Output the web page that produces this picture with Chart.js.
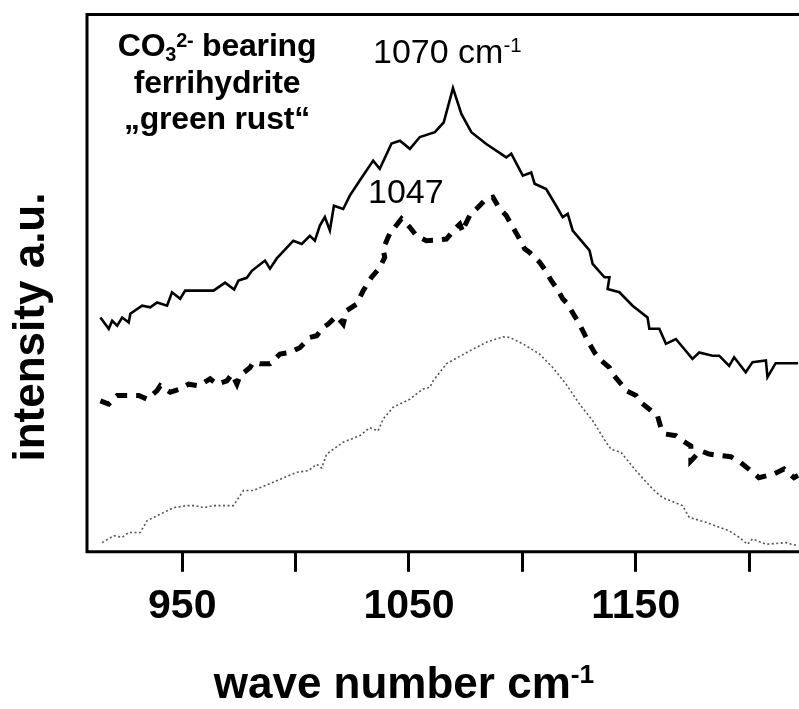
<!DOCTYPE html>
<html>
<head>
<meta charset="utf-8">
<script src="https://cdn.jsdelivr.net/npm/chart.js@4.4.1/dist/chart.umd.min.js"></script>
<style>
  html, body { margin: 0; padding: 0; background: #fff; }
  #wrap { position: relative; width: 799px; height: 709px; overflow: hidden; font-family: 'Liberation Sans', Arial, Helvetica, sans-serif; color: #000; }
  #wrap canvas { position: absolute; left: 0; top: 0; }
  .lbl { position: absolute; white-space: nowrap; line-height: 1; }
  .note { position: absolute; left: 97px; top: 27px; width: 240px; text-align: center; font-weight: bold; font-size: 32px; line-height: 36.5px; letter-spacing: -0.2px; }
  .note sub, .note sup { font-size: 0.62em; line-height: 0; position: relative; vertical-align: baseline; }
  .note sub { top: 0.25em; }
  .note sup { top: -0.45em; }
  .peak { font-size: 34px; }
  .peak sup, .xt sup { font-size: 0.6em; line-height: 0; position: relative; vertical-align: baseline; top: -0.55em; }
  .xt { left: 154px; top: 661px; width: 500px; text-align: center; font-weight: bold; font-size: 44px; }
  .yt { left: -121px; top: 305px; width: 300px; text-align: center; font-weight: bold; font-size: 44px; transform: rotate(-90deg); }
</style>
</head>
<body>
<div id="wrap">
  <canvas id="spec" width="799" height="709"></canvas>
  <div class="note">CO<sub>3</sub><sup>2-</sup> bearing<br>ferrihydrite<br>„green rust“</div>
  <div class="lbl peak" style="left:373px; top:34px;">1070 cm<sup>-1</sup></div>
  <div class="lbl peak" style="left:368px; top:174px;">1047</div>
  <div class="lbl xt">wave number cm<sup>-1</sup></div>
  <div class="lbl yt">intensity a.u.</div>
</div>
<script>
// x axis: wave number (cm-1), y: intensity in arbitrary units (0..100)
const X_MIN = 908, X_MAX = 1222;
const TICKS = [950, 1000, 1050, 1100, 1150, 1200];
const TICK_LABELS = ['950', '', '1050', '', '1150', ''];

// CO3 bearing ferrihydrite (solid)
const SOLID_X = [913.9,917.6,919.1,921.3,923.5,926.4,927.1,932.3,935.9,938.9,943.3,945.5,949.1,951.3,963.8,968.9,972.9,974.8,978.5,980.7,
  986.5,988.7,991.7,999.0,1002.7,1006.3,1008.5,1010.7,1012.9,1015.1,1016.9,1021.0,1023.9,1028.3,1034.2,1037.1,1042.3,1046.0,1050.4,1054.8,
  1061.4,1065.3,1069.4,1073.1,1077.5,1084.1,1092.9,1095.1,1100.2,1103.9,1105.4,1110.5,1114.9,1117.8,1120.0,1122.2,1129.6,1131.0,1136.2,1138.4,
  1137.6,1142.8,1148.6,1155.2,1156.0,1160.4,1163.3,1167.7,1175.0,1178.0,1183.8,1186.8,1191.2,1193.4,1198.5,1201.5,1207.4,1208.1,1211.7,1221.6];
const SOLID_Y = [43.6,41.5,43.0,42.1,43.6,42.7,44.3,45.8,45.5,46.4,45.8,48.3,47.1,48.6,48.6,50.1,48.8,50.5,51.0,52.3,
  54.2,52.7,54.6,57.9,57.3,58.8,57.9,60.7,62.3,59.8,64.4,63.8,66.3,69.1,72.8,71.3,76.0,76.5,75.0,77.2,
  78.1,79.9,86.3,81.5,78.1,75.9,73.4,74.1,70.0,70.6,68.5,67.5,64.4,62.3,62.9,59.8,56.1,53.6,51.1,51.1,
  48.9,48.3,45.8,43.6,41.5,41.5,38.7,39.6,35.9,37.1,36.5,36.5,34.6,36.2,33.4,35.3,35.6,32.5,35.1,35.1];

// ferrihydrite (dashed)
const DASH_X = [913.9,917.6,921.3,930.8,934.5,938.9,940.3,944.7,949.1,952.8,957.2,962.3,965.3,969.7,971.9,974.1,975.5,979.9,981.4,984.3,
  988.7,993.1,997.5,1001.9,1006.3,1009.3,1012.2,1014.4,1018.1,1021.0,1022.5,1026.9,1029.8,1033.5,1037.1,1039.3,1038.6,1041.5,1043.7,1046.7,
  1050.4,1053.3,1057.7,1062.1,1066.5,1070.2,1072.4,1073.8,1074.6,1076.8,1079.7,1084.1,1087.0,1090.0,1092.9,1095.8,1098.0,1101.0,1103.2,1107.6,
  1109.8,1112.7,1114.9,1117.8,1120.0,1123.0,1124.4,1127.4,1128.8,1131.8,1134.0,1138.4,1139.8,1144.2,1145.7,1150.1,1152.3,1156.7,1159.6,1161.1,
  1163.3,1167.7,1170.6,1174.3,1174.3,1178.6,1182.3,1187.5,1191.9,1196.3,1200.7,1204.3,1211.0,1215.4,1219.8,1221.6];
const DASH_Y = [28.1,27.5,29.1,29.1,28.4,30.0,30.9,29.7,30.3,31.2,30.9,32.2,31.2,31.8,33.1,31.2,32.8,34.3,35.3,35.0,
  35.0,36.8,37.1,38.0,39.9,40.2,41.8,42.4,43.9,42.4,44.9,46.1,48.6,51.1,52.9,54.8,56.4,59.2,60.4,62.0,
  60.4,58.8,57.9,58.0,58.2,60.1,61.0,59.5,60.7,62.6,63.8,65.7,66.0,63.8,62.6,60.4,58.8,56.4,55.7,53.9,
  52.6,50.5,49.2,47.1,46.1,43.9,43.0,40.5,39.3,37.1,35.9,34.3,33.1,30.9,30.0,29.1,27.8,26.3,25.3,23.1,
  21.9,21.6,20.7,19.7,16.9,18.8,18.2,17.9,17.7,16.6,15.1,13.8,14.5,15.4,13.8,14.2];

// green rust (dotted)
const DOT_X = [914.7,919.8,923.5,926.4,931.5,934.5,940.3,946.2,952.1,955.7,959.4,963.8,972.6,977.0,981.4,993.1,1000.5,1005.6,1009.3,1011.5,
  1013.7,1021.0,1028.3,1032.7,1036.4,1038.6,1043.0,1050.4,1056.2,1059.2,1060.6,1063.6,1066.5,1076.8,1084.1,1091.4,1094.4,1100.2,1107.6,1113.4,
  1119.3,1125.2,1131.0,1136.9,1139.1,1143.5,1150.1,1157.4,1161.8,1170.6,1173.6,1180.9,1191.2,1195.6,1199.3,1201.5,1207.4,1216.2,1221.6];
const DOT_Y = [1.7,3.0,2.7,3.6,3.6,5.8,7.0,8.2,8.6,8.6,8.2,8.6,8.6,11.4,11.4,13.5,14.8,15.1,16.3,15.6,
  18.2,20.4,21.6,23.1,22.5,24.7,26.9,28.4,30.3,30.6,31.8,33.4,35.0,37.4,39.0,40.0,39.9,38.7,36.8,34.3,
  31.2,27.5,24.4,20.4,19.1,18.5,15.1,11.7,10.1,8.6,6.4,5.5,3.9,2.7,1.4,2.4,1.4,1.7,1.1];

const pts = (xs, ys) => xs.map((x, i) => ({ x, y: ys[i] }));

// left, top and bottom frame lines (the right edge is cut off)
const frame = {
  id: 'frame',
  afterDraw(chart) {
    const { ctx, chartArea: a } = chart;
    ctx.save();
    ctx.strokeStyle = '#000';
    ctx.lineWidth = 3;
    ctx.beginPath();
    ctx.moveTo(a.right + 2, a.top);
    ctx.lineTo(a.left, a.top);
    ctx.lineTo(a.left, a.bottom);
    ctx.lineTo(a.right + 2, a.bottom);
    ctx.stroke();
    ctx.restore();
  }
};

new Chart(document.getElementById('spec'), {
  type: 'scatter',
  data: {
    datasets: [
      { data: pts(SOLID_X, SOLID_Y), showLine: true, borderColor: '#000', borderWidth: 2.6, pointRadius: 0, tension: 0 },
      { data: pts(DASH_X, DASH_Y), showLine: true, borderColor: '#000', borderWidth: 5, borderDash: [11, 9], pointRadius: 0, tension: 0 },
      { data: pts(DOT_X, DOT_Y), showLine: true, borderColor: '#555', borderWidth: 1.6, borderDash: [2, 2.5], pointRadius: 0, tension: 0 },
    ],
  },
  options: {
    responsive: false,
    animation: false,
    layout: { padding: { left: 87, top: 14.5, right: 0, bottom: 68 } },
    plugins: { legend: { display: false }, tooltip: { enabled: false } },
    scales: {
      x: {
        type: 'linear', min: X_MIN, max: X_MAX,
        afterBuildTicks: s => { s.ticks = TICKS.map(v => ({ value: v })); },
        grid: { drawOnChartArea: false, drawTicks: true, tickLength: 20, tickWidth: 3, tickColor: '#000' },
        border: { display: false },
        ticks: {
          padding: 10, maxRotation: 0, autoSkip: false, color: '#000',
          font: { family: "'Liberation Sans', Arial, sans-serif", size: 41, weight: 'bold' },
          callback: v => TICK_LABELS[TICKS.indexOf(v)] ?? '',
        },
      },
      y: { display: false, min: 0, max: 100 },
    },
  },
  plugins: [frame],
});
</script>
</body>
</html>
